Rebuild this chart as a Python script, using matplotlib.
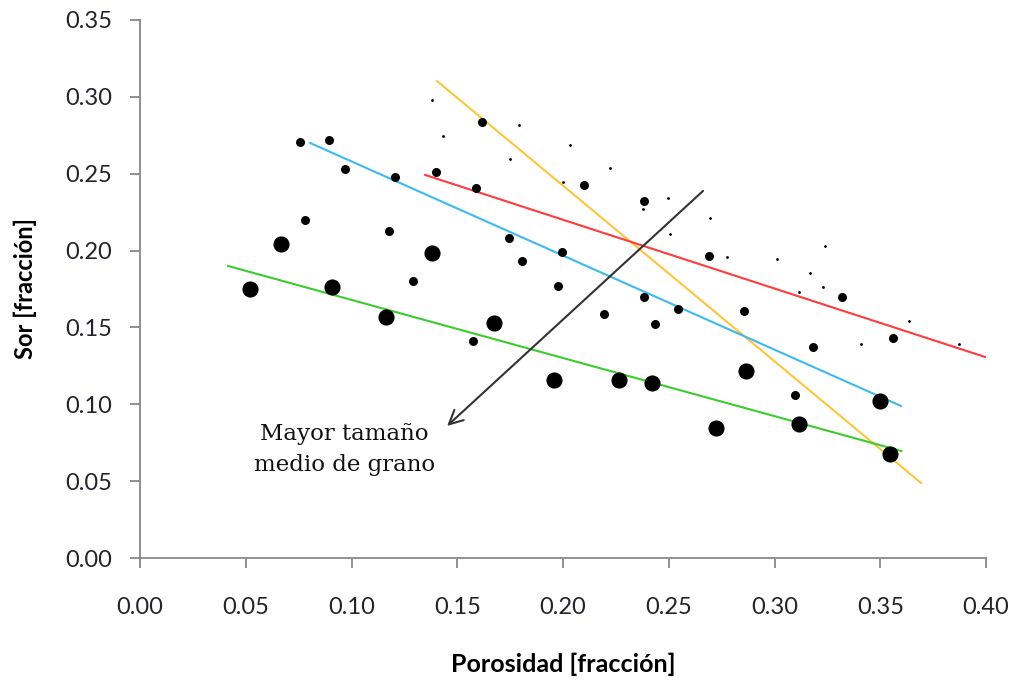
import numpy as np
import matplotlib
matplotlib.use('Agg')
import matplotlib.pyplot as plt

# large dots
big_x = [0.052, 0.0667, 0.0908, 0.1163, 0.1381, 0.1674, 0.1957, 0.2265, 0.2421,
         0.2723, 0.2865, 0.3116, 0.3499, 0.3546]
big_y = [0.175, 0.2043, 0.1763, 0.1568, 0.1984, 0.1529, 0.1158, 0.1158, 0.1138,
         0.0846, 0.1217, 0.0872, 0.1021, 0.0677]

# medium dots
mid_x = [0.0757, 0.0894, 0.0969, 0.078, 0.1206, 0.1177, 0.1291, 0.14, 0.1617,
         0.1589, 0.1574, 0.1745, 0.1806, 0.1995, 0.1976, 0.2099, 0.2383, 0.2194,
         0.2383, 0.2435, 0.2544, 0.269, 0.2856, 0.3182, 0.3097, 0.3319, 0.356]
mid_y = [0.2706, 0.2719, 0.2531, 0.2199, 0.2479, 0.2127, 0.1802, 0.2511, 0.2836,
         0.2407, 0.1412, 0.2082, 0.1932, 0.1991, 0.1769, 0.2427, 0.2322, 0.1587,
         0.1698, 0.1522, 0.162, 0.1965, 0.1607, 0.1373, 0.106, 0.1698, 0.1431]

# small dots
sm_x = [0.1381, 0.1433, 0.1792, 0.1749, 0.2033, 0.2222, 0.2, 0.2378, 0.2496,
        0.2695, 0.2506, 0.2775, 0.3012, 0.3239, 0.3168, 0.3229, 0.3116, 0.3636,
        0.3409, 0.3872, 0.4014]
sm_y = [0.298, 0.2745, 0.2817, 0.2596, 0.2687, 0.2537, 0.2446, 0.227, 0.2342,
        0.2212, 0.2108, 0.1958, 0.1945, 0.203, 0.1854, 0.1763, 0.173, 0.1542,
        0.1392, 0.1392, 0.1334]

# trend lines (start, end)
yellow_x = [0.1404, 0.3693]
yellow_y = [0.3103, 0.0488]
red_x = [0.1348, 0.3995]
red_y = [0.2492, 0.1308]
blue_x = [0.0804, 0.3598]
blue_y = [0.270, 0.0989]
green_x = [0.0416, 0.360]
green_y = [0.190, 0.0696]

# arrow: tail -> head
arrow_tail = (0.2662, 0.2388)
arrow_head = (0.1452, 0.0859)

plt.rcParams['font.family'] = ['Lato', 'DejaVu Sans']

fig = plt.figure(figsize=(10.16, 6.82), dpi=100)
ax = fig.add_axes([0.1378, 0.1818, 0.8327, 0.7889])

ax.plot(yellow_x, yellow_y, color='#FFC53A', lw=1.5)
ax.plot(red_x, red_y, color='#FF3B3B', lw=1.5)
ax.plot(blue_x, blue_y, color='#3DB9F0', lw=1.5)
ax.plot(green_x, green_y, color='#3CCB2E', lw=1.5)

ax.scatter(big_x, big_y, s=135, color='black', zorder=3, linewidths=0)
ax.scatter(mid_x, mid_y, s=42, color='black', zorder=3, linewidths=0)
ax.scatter(sm_x, sm_y, s=4, color='black', zorder=3, linewidths=0)

ax.annotate('', xy=arrow_head, xytext=arrow_tail,
            arrowprops=dict(arrowstyle='->', color='#333333', lw=1.5,
                            mutation_scale=25, shrinkA=0, shrinkB=0))

ax.text(0.0965, 0.0705, 'Mayor tamaño\nmedio de grano', family='DejaVu Serif',
        fontsize=16.5, ha='center', va='center', linespacing=1.55, color='#111111')

ax.set_xlim(0, 0.40)
ax.set_ylim(0, 0.35)
ax.set_xticks(np.arange(0, 0.401, 0.05))
ax.set_yticks(np.arange(0, 0.351, 0.05))
ax.xaxis.set_major_formatter(matplotlib.ticker.FormatStrFormatter('%.2f'))
ax.yaxis.set_major_formatter(matplotlib.ticker.FormatStrFormatter('%.2f'))

for s in ['top', 'right']:
    ax.spines[s].set_visible(False)
for s in ['left', 'bottom']:
    ax.spines[s].set_color('#888888')
    ax.spines[s].set_linewidth(1.3)
ax.tick_params(axis='both', length=7, width=1.3, color='#888888',
               labelsize=17, labelcolor='#23232f')
ax.tick_params(axis='x', pad=21)
ax.tick_params(axis='y', pad=13)

ax.set_xlabel('Porosidad [fracción]', fontsize=18, fontweight='bold', labelpad=25)
ax.set_ylabel('Sor [fracción]', fontsize=17, fontweight='bold', labelpad=20)

fig.savefig('out.png', dpi=100)
